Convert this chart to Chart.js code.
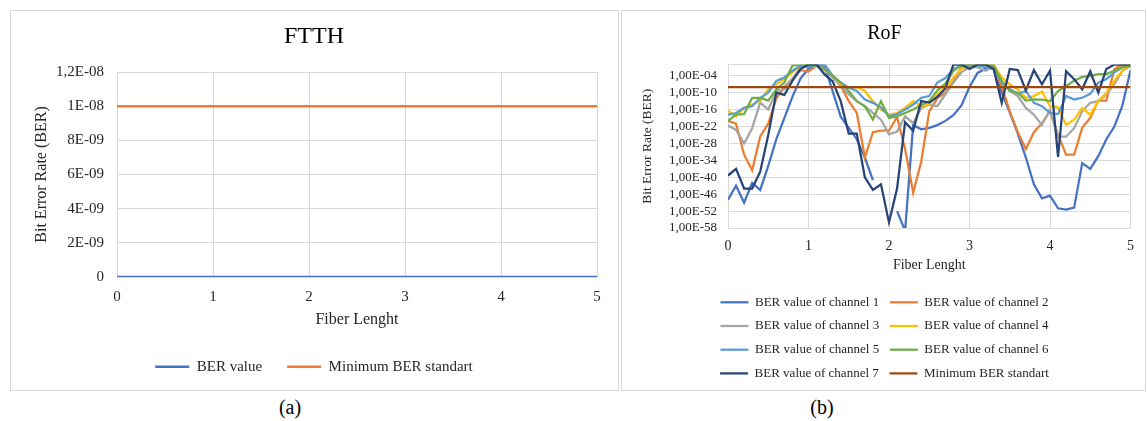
<!DOCTYPE html>
<html>
<head>
<meta charset="utf-8">
<script src="https://cdn.jsdelivr.net/npm/chart.js@4.4.0/dist/chart.umd.min.js"></script>
<style>
  body { margin: 0; background: #fff; width: 1148px; height: 421px; position: relative; overflow: hidden; font-family: "Liberation Serif", serif; }
  .panel { position: absolute; border: 1px solid #d9d9d9; box-sizing: border-box; }
  #panelA { left: 10px; top: 10px; width: 609px; height: 381px; }
  #panelB { left: 621px; top: 10px; width: 525px; height: 381px; }
  .panel canvas { position: absolute; left: 0; top: 0; }
  .caption { position: absolute; top: 396px; font-size: 20px; line-height: 23px; color: #000; transform: translateX(-50%); }
</style>
</head>
<body>
<div class="panel" id="panelA"><canvas id="ftthChart" width="606" height="379"></canvas></div>
<div class="panel" id="panelB"><canvas id="rofChart" width="522" height="379"></canvas></div>
<div class="caption" style="left:290px">(a)</div>
<div class="caption" style="left:822px">(b)</div>

<script>
// ---- FTTH (a) ----
const ftthLength = [0, 1, 2, 3, 4, 5];
const ftthBer = [0, 0, 0, 0, 0, 0];
const ftthMinBer = [1e-8, 1e-8, 1e-8, 1e-8, 1e-8, 1e-8];
const ftthTickLabels = ['0', '2E-09', '4E-09', '6E-09', '8E-09', '1E-08', '1,2E-08'];

// ---- RoF (b) ----  BER values given as powers of ten
const fiberLength = [0, 0.1, 0.2, 0.3, 0.4, 0.5, 0.6, 0.7, 0.8, 0.9, 1, 1.1, 1.2, 1.3, 1.4, 1.5, 1.6, 1.7, 1.8, 1.9,
  2, 2.1, 2.2, 2.3, 2.4, 2.5, 2.6, 2.7, 2.8, 2.9, 3, 3.1, 3.2, 3.3, 3.4, 3.5, 3.6, 3.7, 3.8, 3.9,
  4, 4.1, 4.2, 4.3, 4.4, 4.5, 4.6, 4.7, 4.8, 4.9, 5];
const ch1Exp = [-48, -43, -49, -42, -44.5, -36, -26.5, -19, -11.5, -5, -1.5, 0, -0.5, -9.5, -18.5, -22.5, -26.5, -33, -41, null,
  null, -52, -59, -21.5, -23, -22.5, -21.5, -20, -18, -14.5, -8, -3, -1.5, -1.5, -10, -17, -24.5, -33, -42.5, -47.5,
  -46.5, -51, -51.5, -50.8, -35, -37, -32.5, -26.5, -22, -14.5, -2];
const ch2Exp = [-20, -21, -32, -37.5, -25.5, -21, -12, -8, -5, -2, -2.5, -0.5, -1.5, -4.5, -7.5, -13, -17.2, -33, -24, -23.5,
  -23.5, -18.6, -30, -45.5, -34.5, -16.6, -12, -10, -6, -1, 0, 0, 0, -1.5, -7.6, -16.6, -24, -30, -24, -20.8,
  -16.6, -25, -32, -32, -22.4, -19, -12.8, -12.8, -1.6, 0, 0];
const ch3Exp = [-21.6, -23.2, -28, -22.6, -13.5, -16, -9.4, -8.8, -5.2, -1, 0, -0.5, -2, -4.6, -7.6, -10.6, -13, -14.8, -17.2, -19.6,
  -24.8, -23.8, -18.4, -20.8, -15.4, -14.2, -14.8, -10.6, -6.4, -2.8, -0.8, -1, -2.2, -0.8, -5.8, -9.4, -11.2, -15.4, -17.8, -21.4,
  -16, -25.6, -25.6, -22.6, -16.6, -13.6, -13, -10.6, -7, -2.2, -0.5];
const ch4Exp = [-16.4, -18.4, -15.4, -14.2, -13, -8.8, -7, -5.2, -2.8, -0.6, -0.3, -0.6, -1.6, -4, -7, -8.2, -8, -9.4, -13, -16,
  -17.8, -17.2, -15.4, -13, -14.8, -14.2, -10.6, -8.2, -4.6, -1.6, -0.3, -0.6, -0.3, 0, -4.6, -7, -8.8, -11.8, -11.2, -9.6,
  -14.8, -15.2, -21.4, -19.6, -15.4, -17.8, -13, -10, -5.8, -2.2, 0];
const ch5Exp = [-17.8, -17.2, -15.4, -14.8, -11.8, -10, -5.8, -4.6, -2.2, -0.4, -1, 0, 0, -4, -6.4, -8.2, -9.4, -12.4, -13.6, -15.2,
  -18.4, -17.6, -16, -14.2, -11.8, -11.2, -6.4, -4.8, -1.6, -0.4, -0.4, -0.4, -1, -1, -6.4, -8.8, -10.4, -9.4, -13.6, -14.8,
  -17.2, -17.6, -11.2, -12.4, -11.8, -10.4, -6.4, -5.2, -2.8, -1, -0.4];
const ch6Exp = [-20, -17.8, -17.6, -11.8, -11.8, -12.8, -8.8, -6.4, -0.4, 0, 0, -0.4, -1.6, -4, -6.4, -9.4, -13, -14.8, -19.5, -13,
  -19, -18.4, -17.2, -16, -14.4, -13, -9.2, -6.8, -2.2, -0.4, 0, 0, 0, -0.4, -5.8, -9.4, -10, -12.8, -12.4, -12.5,
  -13, -9.4, -7.6, -5.8, -4.4, -4, -3.4, -3.4, -2.2, -1, -0.4];
const ch7Exp = [-39.4, -37, -44, -44, -38, -25, -10, -10.8, -5.8, -1.6, 0, 0, -3.5, -6, -13, -24.5, -24.5, -40, -44.5, -42.5,
  -56, -44, -20.5, -23.5, -13, -13.5, -11.5, -8.5, 0, 0, -1.6, 0, 0, -1.6, -13.6, -1.6, -2, -9.2, -2, -7,
  -2.2, -32.8, -2.4, -5.2, -8.8, -2.4, -10, -1.6, 0, 0, 0];
const minBerLength = [0, 5];
const minBerExp = [-8, -8];
const rofTickExps = [-58, -52, -46, -40, -34, -28, -22, -16, -10, -4, 0];
const rofTickLabels = ['1,00E-58', '1,00E-52', '1,00E-46', '1,00E-40', '1,00E-34', '1,00E-28', '1,00E-22',
  '1,00E-16', '1,00E-10', '1,00E-04', ''];

const channelNames = ['BER value of channel 1', 'BER value of channel 2', 'BER value of channel 3', 'BER value of channel 4',
  'BER value of channel 5', 'BER value of channel 6', 'BER value of channel 7'];
const channelExps = [ch1Exp, ch2Exp, ch3Exp, ch4Exp, ch5Exp, ch6Exp, ch7Exp];
const channelColors = ['#4472C4', '#ED7D31', '#A5A5A5', '#FFC000', '#5B9BD5', '#70AD47', '#264478'];

Chart.defaults.font.family = '"Liberation Serif", "Times New Roman", serif';
Chart.defaults.color = '#262626';

const GRID = '#d9d9d9';

function points(xs, ys) {
    return xs.map((x, i) => ({ x: x, y: ys[i] }));
}

function expPoints(xs, exps) {
    return xs.map((x, i) => ({ x: x, y: exps[i] === null ? null : Math.pow(10, exps[i]) }));
}

function createFtthChart() {
    const ctx = document.getElementById('ftthChart').getContext('2d');
    return new Chart(ctx, {
        type: 'line',
        data: {
            datasets: [
                { label: 'BER value', data: points(ftthLength, ftthBer), borderColor: '#4472C4', backgroundColor: '#4472C4', borderWidth: 2.5, pointRadius: 0, order: 1 },
                { label: 'Minimum BER standart', data: points(ftthLength, ftthMinBer), borderColor: '#ED7D31', backgroundColor: '#ED7D31', borderWidth: 2.5, pointRadius: 0, order: 0 }
            ]
        },
        options: {
            responsive: false,
            animation: false,
            devicePixelRatio: 1,
            layout: { padding: { left: 20, right: 20, top: 0, bottom: 5.8 } },
            plugins: {
                title: { display: true, text: 'FTTH', color: '#000', font: { size: 24, weight: 'normal' }, padding: { top: 11.6, bottom: 20.6 } },
                legend: {
                    position: 'bottom',
                    labels: {
                        usePointStyle: true, pointStyle: 'line', pointStyleWidth: 34, padding: 25,
                        font: { size: 15 }, color: '#262626',
                        sort: (a, b) => a.datasetIndex - b.datasetIndex
                    }
                },
                tooltip: { enabled: false }
            },
            scales: {
                x: {
                    type: 'linear', min: 0, max: 5,
                    ticks: { stepSize: 1, padding: 11, font: { size: 15 }, color: '#262626' },
                    grid: { color: GRID, drawTicks: false },
                    border: { color: GRID },
                    title: { display: true, text: 'Fiber Lenght', font: { size: 16 }, color: '#262626', padding: { top: 0, bottom: 4.6 } },
                    afterFit: s => { s.height = 57.2; }
                },
                y: {
                    min: 0, max: 1.2e-8,
                    ticks: {
                        stepSize: 2e-9, padding: 13, font: { size: 15 }, color: '#262626',
                        callback: value => ftthTickLabels[Math.round(value / 2e-9)]
                    },
                    grid: { color: GRID, drawTicks: false },
                    border: { color: GRID },
                    title: { display: true, text: 'Bit Error Rate (BER)', font: { size: 16 }, color: '#262626', padding: { top: 1.2, bottom: 0 } },
                    afterFit: s => { s.width = 86; }
                }
            }
        }
    });
}

function createRofChart() {
    const ctx = document.getElementById('rofChart').getContext('2d');
    const datasets = channelExps.map((exps, i) => ({
        label: channelNames[i],
        data: expPoints(fiberLength, exps),
        borderColor: channelColors[i],
        backgroundColor: channelColors[i],
        borderWidth: 2.25,
        pointRadius: 0,
        order: 8 - i
    }));
    datasets.push({
        label: 'Minimum BER standart',
        data: expPoints(minBerLength, minBerExp),
        borderColor: '#9E480E',
        backgroundColor: '#9E480E',
        borderWidth: 2.25,
        pointRadius: 0,
        order: 0
    });

    return new Chart(ctx, {
        type: 'line',
        data: { datasets: datasets },
        options: {
            responsive: false,
            animation: false,
            devicePixelRatio: 1,
            layout: { padding: { left: 14, right: 11, top: 0, bottom: 0.1 } },
            plugins: {
                title: { display: true, text: 'RoF', color: '#000', font: { size: 20, weight: 'normal' }, padding: { top: 10.6, bottom: 18.9 } },
                legend: {
                    position: 'bottom',
                    labels: {
                        usePointStyle: true, pointStyle: 'line', pointStyleWidth: 28, padding: 10.7,
                        font: { size: 13 }, color: '#262626',
                        sort: (a, b) => a.datasetIndex - b.datasetIndex
                    }
                },
                tooltip: { enabled: false }
            },
            scales: {
                x: {
                    type: 'linear', min: 0, max: 5,
                    ticks: { stepSize: 1, padding: 10, font: { size: 14 }, color: '#262626' },
                    grid: { color: GRID, drawTicks: false },
                    border: { color: GRID },
                    title: { display: true, text: 'Fiber Lenght', font: { size: 14 }, color: '#262626', padding: { top: 0, bottom: 11.7 } },
                    afterFit: s => { s.height = 57.1; }
                },
                y: {
                    type: 'logarithmic',
                    min: Math.pow(10, -58), max: Math.pow(10, 0),
                    afterBuildTicks: s => { s.ticks = rofTickExps.map(e => ({ value: Math.pow(10, e) })); },
                    ticks: {
                        autoSkip: false, padding: 11, font: { size: 13 }, color: '#262626',
                        callback: (value, index) => rofTickLabels[index]
                    },
                    grid: { color: GRID, drawTicks: false },
                    border: { color: GRID },
                    title: { display: true, text: 'Bit Error Rate (BER)', font: { size: 13.5 }, color: '#262626', padding: { top: 3.4, bottom: 0 } },
                    afterFit: s => { s.width = 92; }
                }
            }
        }
    });
}

createFtthChart();
createRofChart();
</script>
</body>
</html>
